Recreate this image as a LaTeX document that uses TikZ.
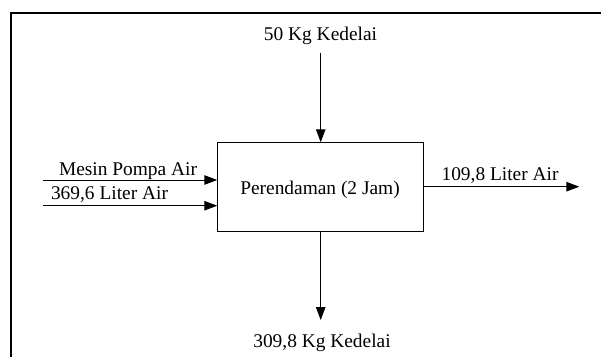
\documentclass[tikz,border=0pt]{standalone}
\usepackage{fontspec}
\setmainfont{Liberation Serif}
\usetikzlibrary{arrows.meta}
\begin{document}
\begin{tikzpicture}[x=1pt,y=-1pt,
  lbl/.style={anchor=base,inner sep=0pt,font=\fontsize{19.4}{23}\selectfont},
  procbox/.style={draw,line width=0.9pt,minimum width=205.6pt,minimum height=89pt,inner sep=0pt},
  flow/.style={line width=1pt,-{Triangle[length=13pt,width=9.5pt]}}]
\useasboundingbox (0,0) rectangle (601,356);
\draw[line width=2.3pt] (11,13) rectangle (604,360);
\node[procbox] (box) at (320.5,187.2) {};
\node[lbl] (boxtxt) at (320,194.3) {Perendaman (2 Jam)};
\node[lbl] (top) at (320.5,40.7) {50 Kg Kedelai};
\node[lbl] (bot) at (322,347.7) {309,8 Kg Kedelai};
\node[lbl] (mesin) at (128,175) {Mesin Pompa Air};
\node[lbl] (airin) at (109.5,199) {369,6 Liter Air};
\node[lbl] (airout) at (500,180.7) {109,8 Liter Air};
\coordinate (topstart) at (320.7,53.3);
\coordinate (botend) at (320.7,320);
\coordinate (in1) at (43.3,180);
\coordinate (in2) at (43.3,205.7);
\coordinate (outend) at (579.3,186.7);
\draw[flow] (topstart) -- (topstart |- box.north);
\draw[flow] (box.south -| botend) -- (botend);
\draw[flow] (in1) -- (box.west |- in1);
\draw[flow] (in2) -- (box.west |- in2);
\draw[flow] (box.east |- outend) -- (outend);
\end{tikzpicture}
\end{document}
